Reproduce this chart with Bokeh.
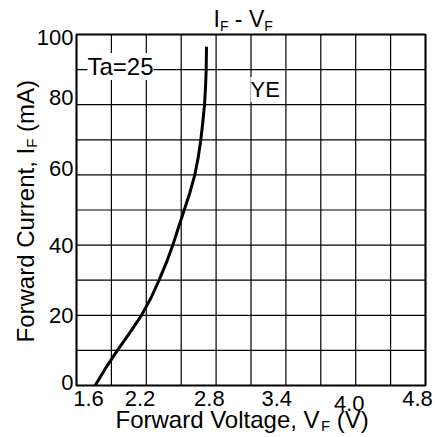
from bokeh.plotting import figure
from bokeh.models import Range1d, Label
from bokeh.embed import file_html
from bokeh.resources import INLINE
import math

# ---- data ----
current = [0, 5, 10, 15, 20, 25, 30, 35, 40, 45, 50, 55, 60, 65, 70, 75, 80, 85, 90, 96.5]
voltage = [1.771, 1.868, 1.975, 2.088, 2.196, 2.284, 2.357, 2.424, 2.483, 2.535,
           2.588, 2.640, 2.685, 2.716, 2.740, 2.758, 2.774, 2.783, 2.789, 2.792]

x_tick_values = [1.6, 2.2, 2.8, 3.4, 4.0, 4.8]
x_tick_labels = ["1.6", "2.2", "2.8", "3.4", "4.0", "4.8"]
y_tick_values = [0, 20, 40, 60, 80, 100]
y_tick_labels = ["0", "20", "40", "60", "80", "100"]
x_grid_values = [1.6, 1.92, 2.24, 2.56, 2.88, 3.2, 3.52, 3.84, 4.16, 4.48, 4.8]
y_grid_values = [0, 10, 20, 30, 40, 50, 60, 70, 80, 90, 100]

X_MIN, X_MAX = 1.6, 4.8
Y_MIN, Y_MAX = 0, 100

FONT = "Liberation Sans"
NBSP = "\u00a0"
W, H = 435, 437
# plot box in page pixels
FL, FR, FT, FB = 76, 425, 34, 385


def dx(px):
    return X_MIN + (px - FL) * (X_MAX - X_MIN) / (FR - FL)


def dy(py):
    return Y_MIN + (FB - py) * (Y_MAX - Y_MIN) / (FB - FT)


p = figure(width=W, height=H, output_backend="svg", toolbar_location=None,
           x_range=Range1d(dx(0), dx(W)), y_range=Range1d(dy(H), dy(0)),
           min_border=0)
p.axis.visible = False
p.grid.visible = False
p.outline_line_color = None
p.background_fill_color = "white"
p.border_fill_color = "white"

# grid
p.segment(x0=x_grid_values, x1=x_grid_values,
          y0=[Y_MIN] * len(x_grid_values), y1=[Y_MAX] * len(x_grid_values),
          line_color="black", line_width=1.2)
p.segment(x0=[X_MIN] * len(y_grid_values), x1=[X_MAX] * len(y_grid_values),
          y0=y_grid_values, y1=y_grid_values,
          line_color="black", line_width=1.2)
# plot box
p.quad(left=[X_MIN], right=[X_MAX], bottom=[Y_MIN], top=[Y_MAX],
       fill_color=None, line_color="black", line_width=2)

# curve
p.line(voltage, current, line_color="black", line_width=3, line_join="round")

# x tick labels
x_offsets = [12, -2, 2, 4, 11, -8]
xy_offsets = [-13, -13, -13, -13, -18, -13]
for v, t, xo, yo in zip(x_tick_values, x_tick_labels, x_offsets, xy_offsets):
    p.add_layout(Label(x=v, y=Y_MIN, text=t, x_offset=xo, y_offset=yo,
                       text_align="center", text_baseline="middle",
                       text_font=FONT, text_font_size="22px", text_color="black"))

# y tick labels
y_offsets = [3, 0, 0, 6, 7, -3]
for v, t, yo in zip(y_tick_values, y_tick_labels, y_offsets):
    p.add_layout(Label(x=X_MIN, y=v, text=t, x_offset=-3, y_offset=yo,
                       text_align="right", text_baseline="middle",
                       text_font=FONT, text_font_size="22px", text_color="black"))


def add_text(px, py, text, size, angle=0.0, bg=None):
    """px = left edge, py = vertical centre of capitals (page pixels)."""
    lab = Label(x=dx(px), y=dy(py), text=text, angle=angle,
                text_align="left", text_baseline="middle",
                text_font=FONT, text_font_size=f"{size}px", text_color="black")
    if bg:
        lab.background_fill_color = bg
    p.add_layout(lab)


# Title  I_F - V_F
big, small = 23, 14
x = 213
add_text(x, 18.5, "I", big); x += 0.278 * big
add_text(x, 25, "F", small); x += 0.611 * small
add_text(x, 18.5, NBSP + "-" + NBSP + "V", big); x += (0.278 + 0.333 + 0.278 + 0.667) * big
add_text(x, 25, "F", small)

# x axis label
big, small = 24, 15
x = 115
add_text(x, 419, "Forward Voltage, V", big); x += 8.559 * big
add_text(x, 425, "F", small); x += 0.611 * small
add_text(x, 419, NBSP + "(V)", big)

# y axis label (rotated, reading upward)
y = 342
add_text(24.5, y, "Forward Current, I", big, angle=math.pi / 2); y -= 8.113 * big
add_text(30.5, y, "F", small, angle=math.pi / 2); y -= 0.611 * small
add_text(24.5, y, NBSP + "(mA)", big, angle=math.pi / 2)

# annotations inside plot
add_text(87, 66, "Ta=25", 24, bg="white")
add_text(250, 89, "YE", 22, bg="white")

open("out.html", "w").write(file_html(p, INLINE))
